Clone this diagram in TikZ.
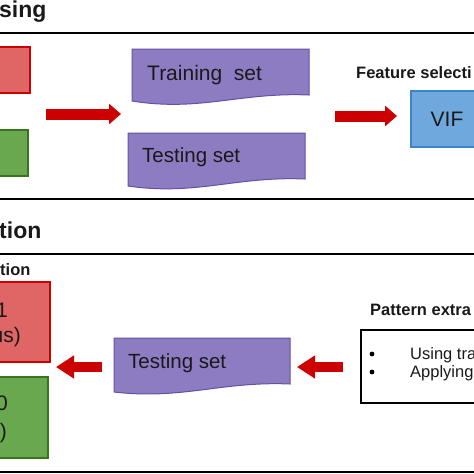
\documentclass[tikz,border=0pt]{standalone}
\usepackage{fontspec}
\setmainfont{Liberation Sans}
\usetikzlibrary{arrows.meta}
\definecolor{boxred}{HTML}{E06666}
\definecolor{edgered}{HTML}{CC0000}
\definecolor{boxgreen}{HTML}{6AA84F}
\definecolor{edgegreen}{HTML}{38761D}
\definecolor{docfill}{HTML}{8E7CC3}
\definecolor{docedge}{HTML}{674EA7}
\definecolor{viffill}{HTML}{6FA8DC}
\definecolor{vifedge}{HTML}{3D85C6}
\definecolor{arrowred}{HTML}{CC0000}
\newcommand{\fsz}[1]{\fontsize{#1}{#1}\selectfont}
\begin{document}
\begin{tikzpicture}[x=1pt, y=-1pt,
  every node/.style={inner sep=0pt, text=black!90},
  colbox/.style={draw, line width=1.2pt},
  docshape/.style={fill=docfill, draw=docedge, line width=1pt},
  frame/.style={line width=1.6pt},
  heading/.style={anchor=base west, font=\bfseries\fsz{23}},
  label/.style={anchor=base west, font=\bfseries\fsz{16.5}},
  fatarrow/.style={draw=arrowred, line width=11pt, -{Triangle[length=12pt,width=20pt]}},
  fatarrowb/.style={draw=arrowred, line width=10pt, -{Triangle[length=18pt,width=22pt]}}]
\useasboundingbox (0,0) rectangle (474,474);
\clip (0,0) rectangle (474,474);
% upper part
\node[heading] (headA) at (-1,17) {sing};
\draw[frame] (-10,33) rectangle (490,199);
\node[colbox, fill=boxred, draw=edgered, minimum width=70pt, minimum height=46pt] (redA) at (-5,70) {};
\node[colbox, fill=boxgreen, draw=edgegreen, minimum width=70pt, minimum height=46pt] (greenA) at (-7,153) {};
\filldraw[docshape] (132,49) -- (309,49) -- (309,95) .. controls (240,92) and (200,112) .. (132,101) -- cycle;
\node[anchor=base west, font=\fsz{21}] (train) at (147,80) {Training\ \ set};
\filldraw[docshape] (128,133) -- (305,133) -- (305,179) .. controls (236,176) and (196,196) .. (128,186) -- cycle;
\node[anchor=base west, font=\fsz{20.5}] (testA) at (142,162) {Testing set};
\node[label] (featlbl) at (356,78) {Feature selecti};
\node[colbox, fill=viffill, draw=vifedge, minimum width=72pt, minimum height=56pt, font=\fsz{21}] (vif) at (447,119) {VIF};
\coordinate (a1s) at (46,114);
\coordinate (a1e) at (121,114);
\coordinate (a2s) at (335,116);
\coordinate (a2e) at (397,116);
\draw[fatarrow] (a1s) -- (a1e);
\draw[fatarrow] (a2s) -- (a2e);
% lower part
\node[heading] (headB) at (-1,238) {tion};
\draw[frame] (-10,254) -- (490,254);
\draw[line width=2.4pt] (-10,472) -- (490,472);
\node[label] (sublbl) at (0,275) {tion};
\node[colbox, fill=boxred, draw=edgered, minimum width=110pt, minimum height=80pt] (redB) at (-5,322) {};
\node[anchor=base east, font=\fsz{21}] (redBa) at (8,317) {1};
\node[anchor=base east, font=\fsz{21}] (redBb) at (21,342) {us)};
\node[colbox, fill=boxgreen, draw=edgegreen, minimum width=110pt, minimum height=81pt] (greenB) at (-7,417.5) {};
\node[anchor=base east, font=\fsz{21}] (greenBa) at (8,410) {0};
\node[anchor=base east, font=\fsz{21}] (greenBb) at (7,438) {)};
\filldraw[docshape] (114,338) -- (290,338) -- (290,384) .. controls (222,381) and (182,400) .. (114,392) -- cycle;
\node[anchor=base west, font=\fsz{20.5}] (testB) at (128,368) {Testing set};
\node[label] (patlbl) at (370,315) {Pattern extra};
\node[draw, line width=1.2pt, minimum width=200pt, minimum height=73pt] (patbox) at (461,366.5) {};
\fill (372,354) circle (2.4);
\fill (372,372) circle (2.4);
\node[anchor=base west, font=\fsz{16.5}] (useA) at (410,359) {Using trai};
\node[anchor=base west, font=\fsz{16.5}] (useB) at (410,377) {Applying};
\coordinate (a3s) at (102,367);
\coordinate (a3e) at (56,367);
\coordinate (a4s) at (343,367);
\coordinate (a4e) at (297,367);
\draw[fatarrowb] (a3s) -- (a3e);
\draw[fatarrowb] (a4s) -- (a4e);
\end{tikzpicture}
\end{document}
